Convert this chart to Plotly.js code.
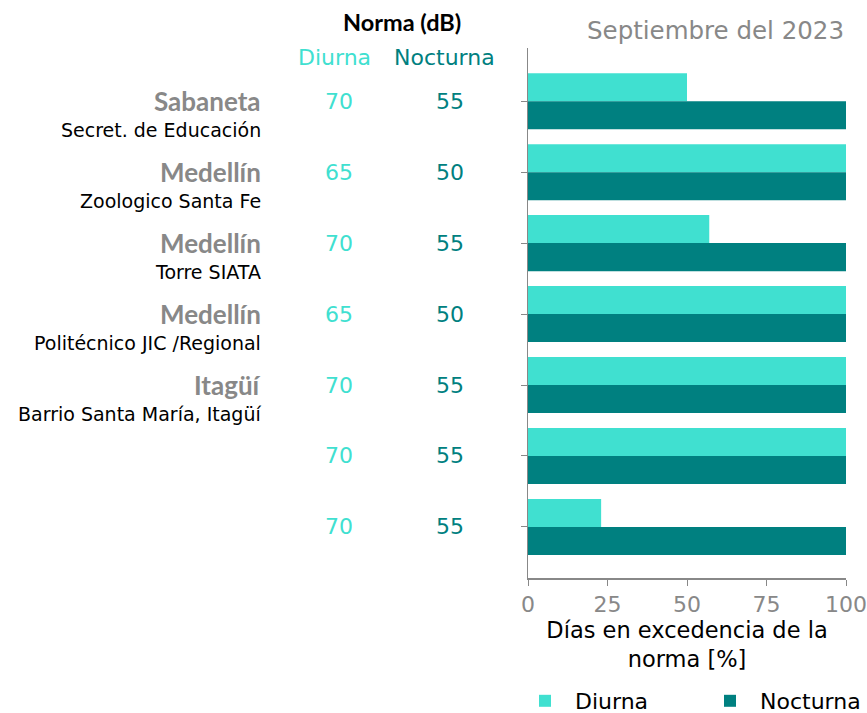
<!DOCTYPE html>
<html>
<head>
<meta charset="utf-8">
<script src="https://cdn.plot.ly/plotly-3.0.1.min.js"></script>
<style>html,body{margin:0;padding:0;background:#fff;}#chart{width:867px;height:713px;}</style>
</head>
<body>
<div id="chart"></div>
<script>
const categories = ["E1","E2","E3","E4","E5","E6","E7"];
const municipios = ["Sabaneta","Medellín","Medellín","Medellín","Itagüí","",""];
const estaciones = ["Secret. de Educación","Zoologico Santa Fe","Torre SIATA","Politécnico JIC /Regional","Barrio Santa María, Itagüí","",""];
const normaDiurna = [70,65,70,65,70,70,70];
const normaNocturna = [55,50,55,50,55,55,55];
const diurna = [50,100,57,100,100,100,23];
const nocturna = [100,100,100,100,100,100,100];
const xTicks = [0,25,50,75,100];

const DV = "'DejaVu Sans'";
const LT = "'Lato'";
const cDia = "#40E0D0", cNoche = "#008080";
const traces = [
  {type:"bar", orientation:"h", name:"Diurna", y:categories, x:diurna, marker:{color:cDia}},
  {type:"bar", orientation:"h", name:"Nocturna", y:categories, x:nocturna, marker:{color:cNoche}}
];
const ann = [];
const toPaperX = px => (px-528)/318;
const toPaperY = py => 1+(48-py)/530;
categories.forEach((c,i)=>{
  if (municipios[i]) ann.push({xref:"paper", yref:"y", x:toPaperX(263), y:i, xanchor:"right", yanchor:"middle", showarrow:false,
    text:"<b>"+municipios[i]+"</b>", font:{family:LT, size:26, color:"#888888"}});
  if (estaciones[i]) ann.push({xref:"paper", yref:"y", x:toPaperX(263), y:i, yshift:-29, xanchor:"right", yanchor:"middle", showarrow:false,
    text:estaciones[i], font:{family:DV, size:19, color:"#000"}});
  ann.push({xref:"paper", yref:"y", x:toPaperX(339), y:i, xanchor:"center", yanchor:"middle", showarrow:false,
    text:String(normaDiurna[i]), font:{family:DV, size:22, color:cDia}});
  ann.push({xref:"paper", yref:"y", x:toPaperX(450), y:i, xanchor:"center", yanchor:"middle", showarrow:false,
    text:String(normaNocturna[i]), font:{family:DV, size:22, color:cNoche}});
});
ann.push({xref:"paper", yref:"paper", x:toPaperX(402), y:toPaperY(22), yanchor:"middle", xanchor:"center", showarrow:false,
  text:"<b>Norma (dB)</b>", font:{family:LT, size:23.5, color:"#000"}});
ann.push({xref:"paper", yref:"paper", x:toPaperX(334), y:toPaperY(57), yanchor:"middle", xanchor:"center", showarrow:false,
  text:"Diurna", font:{family:DV, size:22, color:cDia}});
ann.push({xref:"paper", yref:"paper", x:toPaperX(444), y:toPaperY(57), yanchor:"middle", xanchor:"center", showarrow:false,
  text:"Nocturna", font:{family:DV, size:22, color:cNoche}});
ann.push({xref:"paper", yref:"paper", x:1, y:toPaperY(30), yanchor:"middle", xanchor:"right", showarrow:false,
  text:"Septiembre del 2023", font:{family:DV, size:24.5, color:"#888888"}});

const layout = {
  width:867, height:713,
  margin:{l:528, r:21, t:48, b:135, autoexpand:false},
  paper_bgcolor:"#fff", plot_bgcolor:"#fff",
  barmode:"group", bargap:0.21, bargroupgap:0,
  showlegend:true,
  legend:{orientation:"h", x:toPaperX(515), xanchor:"left", y:toPaperY(701), yanchor:"middle", font:{family:DV, size:22, color:"#000"},
    itemwidth:50, entrywidth:120, entrywidthmode:"pixels", traceorder:"normal", tracegroupgap:0},
  xaxis:{range:[0,100], tickvals:xTicks, ticktext:xTicks.map(String), showgrid:false, zeroline:false,
    showline:true, linecolor:"#888", linewidth:1.5, ticks:"outside", ticklen:6, tickcolor:"#888",
    tickfont:{family:DV, size:22, color:"#888"}, automargin:false,
    title:{text:"Días en excedencia de la<br>norma [%]", standoff:6, font:{family:DV, size:22.5, color:"#000"}}},
  yaxis:{type:"category", categoryorder:"array", categoryarray:categories, range:[6.72,-0.75], showticklabels:false, automargin:false,
    showgrid:false, zeroline:false, showline:true, linecolor:"#888", linewidth:1.5, ticks:"outside", ticklen:6, tickcolor:"#888"},
  annotations:ann,
  font:{family:DV}
};
Plotly.newPlot("chart", traces, layout, {displayModeBar:false, staticPlot:true});
</script>
</body>
</html>
